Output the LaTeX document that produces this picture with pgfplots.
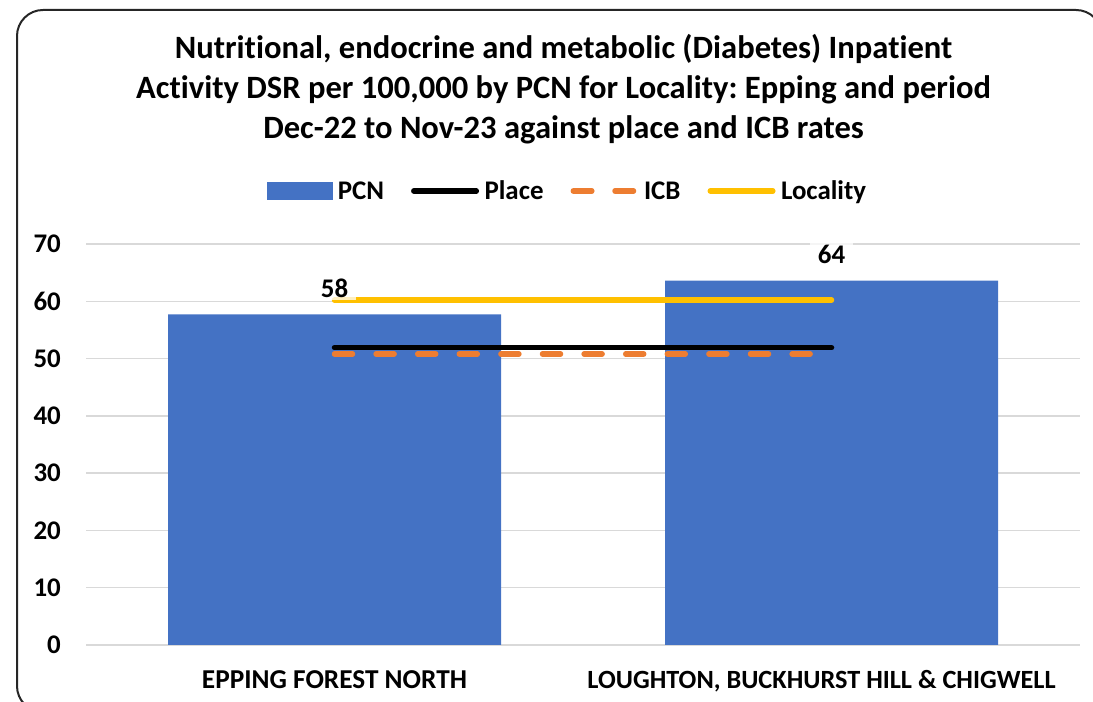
\documentclass[border=0pt]{standalone}
\usepackage{pgfplots}
\pgfplotsset{compat=1.18}
\usepackage{fontspec}
\setmainfont{Carlito}[Ligatures={NoCommon}]
\frenchspacing
\definecolor{barblue}{HTML}{4472C4}
\definecolor{icborange}{HTML}{ED7D31}
\definecolor{locyellow}{HTML}{FFC000}
\definecolor{gridgray}{HTML}{D9D9D9}
\pgfplotstableread{
x y
0 57.7
1 63.6
}\pcn
\pgfplotstableread{
x y
0 51.9
1 51.9
}\place
\pgfplotstableread{
x y
0 50.8
1 50.8
}\icb
\pgfplotstableread{
x y
0 60.2
1 60.2
}\locality
\begin{document}
\begin{tikzpicture}[x=1bp,y=1bp]
\useasboundingbox (0,0) rectangle (1093,702);
\begin{scope}
\clip (0,0) rectangle (1093,702);
\draw[line width=2bp, color=black!85, rounded corners=26bp] (17,-10) rectangle (1102,692);
\end{scope}
\node[anchor=base, font=\fontsize{32.7}{40}\selectfont\bfseries, inner sep=0pt] at (563.5,643) {Nutritional, endocrine and metabolic (Diabetes) Inpatient};
\node[anchor=base, font=\fontsize{32.7}{40}\selectfont\bfseries, inner sep=0pt] at (563.5,603) {Activity DSR per 100,000 by PCN for Locality: Epping and period};
\node[anchor=base, font=\fontsize{32.7}{40}\selectfont\bfseries, inner sep=0pt] at (563.5,563) {Dec-22 to Nov-23 against place and ICB rates};
\begin{axis}[
  at={(86bp,57bp)}, anchor=south west,
  width=994bp, height=401bp, scale only axis,
  xmin=-0.5, xmax=1.5, ymin=0, ymax=70,
  axis line style={draw=none},
  major tick length=0pt,
  ytick={0,10,...,70},
  ymajorgrids, grid style={gridgray, line width=1.5bp},
  xtick={0,1},
  xticklabels={{\fontsize{27.4}{32}\selectfont EPPING FOREST NORTH}, {\hspace*{-20bp}\fontsize{26.4}{32}\selectfont LOUGHTON, BUCKHURST HILL \& CHIGWELL}},
  tick label style={font=\fontsize{27}{32}\selectfont\bfseries, /pgf/number format/assume math mode=true},
  yticklabel style={inner sep=0pt, anchor=east, xshift=-25bp},
  xticklabel style={inner sep=0pt, anchor=north, yshift=-25bp},
  clip=false,
  legend columns=4,
  legend style={at={(0.4834,1.1322)}, anchor=center, draw=none, fill=none,
    font=\fontsize{27}{32}\selectfont\bfseries,
    nodes={inner sep=0pt},
    /tikz/every odd column/.append style={column sep=5.5bp},
    /tikz/every even column/.append style={column sep=27bp}},
]
\addplot[ybar, bar width=0.67, bar shift=0pt, fill=barblue, draw=none, forget plot] table[x=x,y=y] {\pcn};
\addplot[black, line width=5.5bp, line cap=round, forget plot] table[x=x,y=y] {\place};
\addplot[icborange, line width=5.5bp, line cap=round, dash pattern=on 18bp off 23.6bp, forget plot] table[x=x,y=y] {\icb};
\addplot[locyellow, line width=5.5bp, line cap=round, forget plot] table[x=x,y=y] {\locality};
\addplot[ybar, bar width=0.67, bar shift=0pt, fill=none, draw=none, forget plot,
  nodes near coords={\pgfmathprintnumber[fixed,precision=0,assume math mode=true]{\pgfplotspointmeta}},
  every node near coord/.append style={font=\fontsize{27}{32}\selectfont\bfseries, anchor=south, fill=white, fill opacity=0.75, text opacity=1, inner xsep=7.5bp, inner ysep=3bp, yshift=14bp}] table[x=x,y=y] {\pcn};
\addlegendimage{legend image code/.code={\fill[barblue] (0bp,-8.5bp) rectangle (65bp,8.5bp);}}
\addlegendentry{PCN}
\addlegendimage{legend image code/.code={\path[draw=none,fill=none] (0bp,-8.5bp) rectangle (68bp,8.5bp); \draw[black, line width=5.5bp, line cap=round] (2.75bp,0bp) -- (65.25bp,0bp);}}
\addlegendentry{Place}
\addlegendimage{legend image code/.code={\path[draw=none,fill=none] (0bp,-8.5bp) rectangle (68bp,8.5bp); \draw[icborange, line width=5.5bp, line cap=round, dash pattern=on 18.5bp off 23.2bp] (2.75bp,0bp) -- (65.25bp,0bp);}}
\addlegendentry{ICB}
\addlegendimage{legend image code/.code={\path[draw=none,fill=none] (0bp,-8.5bp) rectangle (68bp,8.5bp); \draw[locyellow, line width=5.5bp, line cap=round] (2.75bp,0bp) -- (65.25bp,0bp);}}
\addlegendentry{Locality}
\end{axis}
\end{tikzpicture}
\end{document}
